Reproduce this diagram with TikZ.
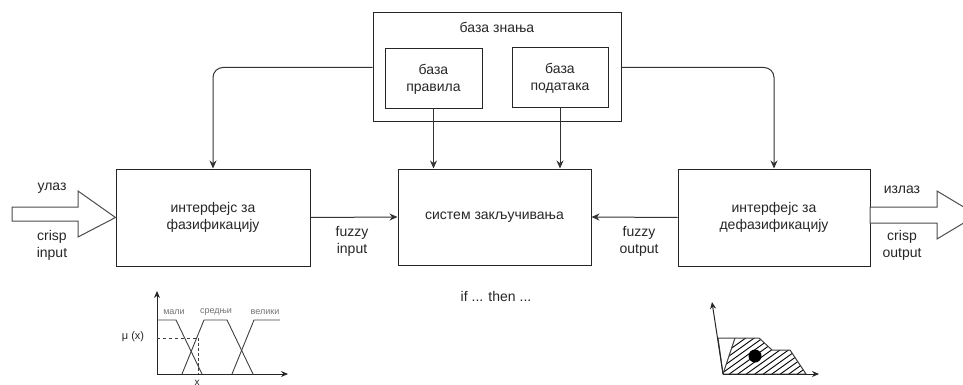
\documentclass[tikz,border=0pt]{standalone}
\usepackage{fontspec}
\setmainfont{Liberation Sans}
\usetikzlibrary{arrows.meta}
\tikzset{
  blk/.style={draw=black!85, line width=1pt, minimum width=#1, inner sep=0pt},
  lbl/.style={font=\fontsize{14}{17}\selectfont, align=center, text=black!85},
  conn/.style={draw=black!80, line width=1pt, -{Stealth[length=8pt,width=7pt]}},
  hollow/.style={draw=black!70, line width=1pt, fill=white},
  tiny/.style={font=\fontsize{9}{10}\selectfont, text=black!55, inner sep=0pt},
  axis/.style={draw=black!85, line width=1pt, -{Stealth[length=7pt,width=6pt]}},
  mf/.style={draw=black!75, line width=0.9pt},
}
\begin{document}
\begin{tikzpicture}[x=1pt,y=-1pt]
\useasboundingbox (0,0) rectangle (963,385);
\clip (0,0) rectangle (963,385);
% knowledge base
\node[blk=248pt, minimum height=109pt] (kb) at (497,67.5) {};
\node[lbl] (kbt) at (497,27) {база знања};
\node[blk=97pt, minimum height=60pt, lbl] (rules) at (433.5,79) {база\\правила};
\node[blk=96pt, minimum height=60pt, lbl] (data) at (560,78) {база\\података};
% main blocks
\node[blk=194pt, minimum height=97pt, lbl] (fuzz) at (213,217.5) {интерфејс за\\фазификацију};
\node[blk=193pt, minimum height=96pt, lbl] (inf) at (494.5,217) {систем закључивања};
\node[blk=192pt, minimum height=97pt, lbl] (defuzz) at (774,217.5) {интерфејс за\\дефазификацију};
% connectors
\draw[conn, rounded corners=10pt] (kb.west) -| (fuzz.north);
\draw[conn, rounded corners=10pt] (kb.east) -| (defuzz.north);
\draw[conn] (rules.south) -- (rules.south |- inf.north);
\draw[conn] (data.south) -- (data.south |- inf.north);
\draw[conn] (fuzz.east) -- (inf.west);
\draw[conn] (defuzz.west) -- (inf.east);
% hollow arrows
\draw[hollow] (12,207) -- (78,207) -- (78,191) -- (fuzz.west) -- (78,237) -- (78,221) -- (12,221) -- cycle;
\draw[hollow] (870,207) -- (937,207) -- (937,191) -- (977,215) -- (937,239) -- (937,223) -- (870,223) -- cycle;
% labels
\node[lbl] (in1) at (52,188) {улаз};
\node[lbl] (in2) at (52,245) {crisp\\input};
\node[lbl] (fi) at (352,241) {fuzzy\\input};
\node[lbl] (fo) at (639,241) {fuzzy\\output};
\node[lbl] (out1) at (902,190) {излаз};
\node[lbl] (out2) at (902,245) {crisp\\output};
\node[lbl] (ift) at (496,296) {if ... then ...};
% membership functions chart
\draw[axis] (157,374) -- (157,291);
\draw[axis] (157,374) -- (288,374);
\draw[mf] (157,320) -- (176,320) -- (202,374);
\draw[mf] (182,374) -- (204,320) -- (227,320) -- (253,374);
\draw[mf] (232,374) -- (254,320) -- (280,320);
\draw[mf, dashed] (157,338) -- (198,338);
\draw[mf, densely dashed, line width=0.7pt] (198,338) -- (198,374);
\node[tiny] (m1) at (174,312) {мали};
\node[tiny] (m2) at (216,312) {средњи};
\node[tiny] (m3) at (265,312) {велики};
\node[font=\fontsize{11}{12}\selectfont, text=black!85] (mu) at (133,337) {μ (x)};
\node[font=\fontsize{10}{11}\selectfont, text=black!85] (xl) at (197,383) {x};
% defuzzification chart
\begin{scope}
\clip (723,374) -- (735,338) -- (759,338) -- (772,350) -- (790,350) -- (806,374) -- cycle;
\foreach \i in {0,...,16} {
  \draw[line width=0.9pt] (680+8.5*\i,385) -- (680+8.5*\i+70,335);
}
\end{scope}
\draw[mf, line width=1pt] (723,374) -- (718,338) -- (759,338) -- (772,350) -- (790,350) -- (806,374) -- cycle;
\draw[mf, line width=1pt] (723,374) -- (735,338);
\draw[axis] (723,374) -- (712,302);
\draw[axis] (723,374) -- (819,374);
\fill[black] (755,356) circle (6.5pt);
\end{tikzpicture}
\end{document}
